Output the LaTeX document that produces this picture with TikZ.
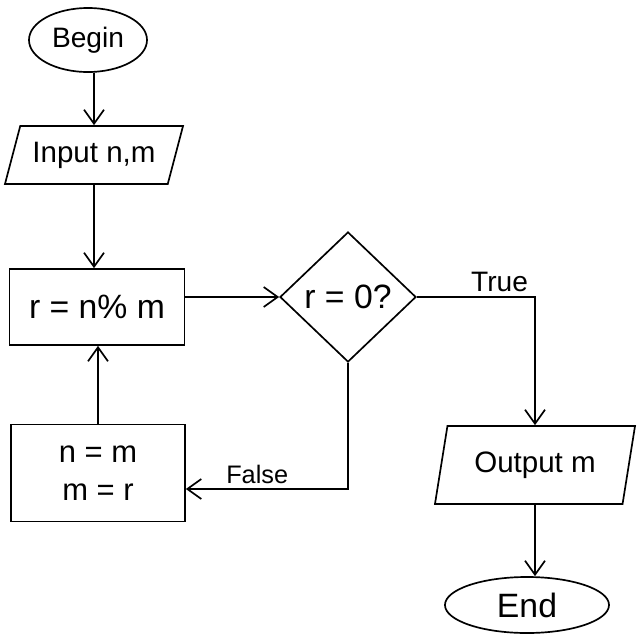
\documentclass[tikz,border=0pt]{standalone}
\usepackage{fontspec}
\setmainfont{Liberation Sans}
\usetikzlibrary{arrows.meta,shapes.geometric}

\begin{document}
\begin{tikzpicture}[x=0.025cm,y=-0.025cm,line width=1.2pt,
  term/.style={draw,ellipse,inner sep=0pt},
  io/.style={draw,trapezium,trapezium stretches body,inner sep=0pt},
  proc/.style={draw,rectangle,inner sep=0pt},
  decide/.style={draw,diamond,inner sep=0pt},
  arr/.style={-{Straight Barb[length=3.5mm,width=5mm]}}]
  \useasboundingbox (0,0) rectangle (640,640);
  % left column
  \node[term,minimum width=2.95cm,minimum height=1.6cm,font=\fontsize{20}{24}\selectfont] (begin) at (88,40) {Begin};
  \node[io,trapezium left angle=60,trapezium right angle=120,minimum width=4.45cm,minimum height=1.45cm,font=\fontsize{21}{25}\selectfont] (input) at (94,155) {Input n,m};
  \node[proc,minimum width=4.375cm,minimum height=1.9cm,font=\fontsize{24}{28}\selectfont] (calc) at (97,307) {r = n\% m};
  \node[proc,minimum width=4.35cm,minimum height=2.425cm,align=center,font=\fontsize{22}{27}\selectfont] (swap) at (98,473) {n = m\\m = r};
  % decision and right column
  \node[decide,minimum width=3.4cm,minimum height=3.25cm,font=\fontsize{24}{28}\selectfont] (test) at (348,297) {r = 0?};
  \node[io,trapezium left angle=65,trapezium right angle=115,minimum width=5cm,minimum height=1.95cm,font=\fontsize{21}{25}\selectfont] (out) at (535,465) {Output m};
  \node[term,minimum width=4.1cm,minimum height=1.4cm,font=\fontsize{24}{28}\selectfont] (end) at (527,605) {End};
  % flow
  \draw[arr] (begin.south -| input) -- (input.north);
  \draw[arr] (input.south) -- (input.south |- calc.north);
  \draw[arr] (calc.east |- test) -- (test.west);
  \draw[arr] (test.east) -| node[pos=0.35,above,font=\fontsize{20}{24}\selectfont] {True} (out.north);
  \draw[arr] (test.south) |- node[pos=0.78,above,font=\fontsize{18}{22}\selectfont] {False} ([yshift=-4mm]swap.east);
  \draw[arr] (swap.north) -- (swap.north |- calc.south);
  \draw[arr] (out.south) -- (out.south |- end.north);
\end{tikzpicture}
\end{document}
